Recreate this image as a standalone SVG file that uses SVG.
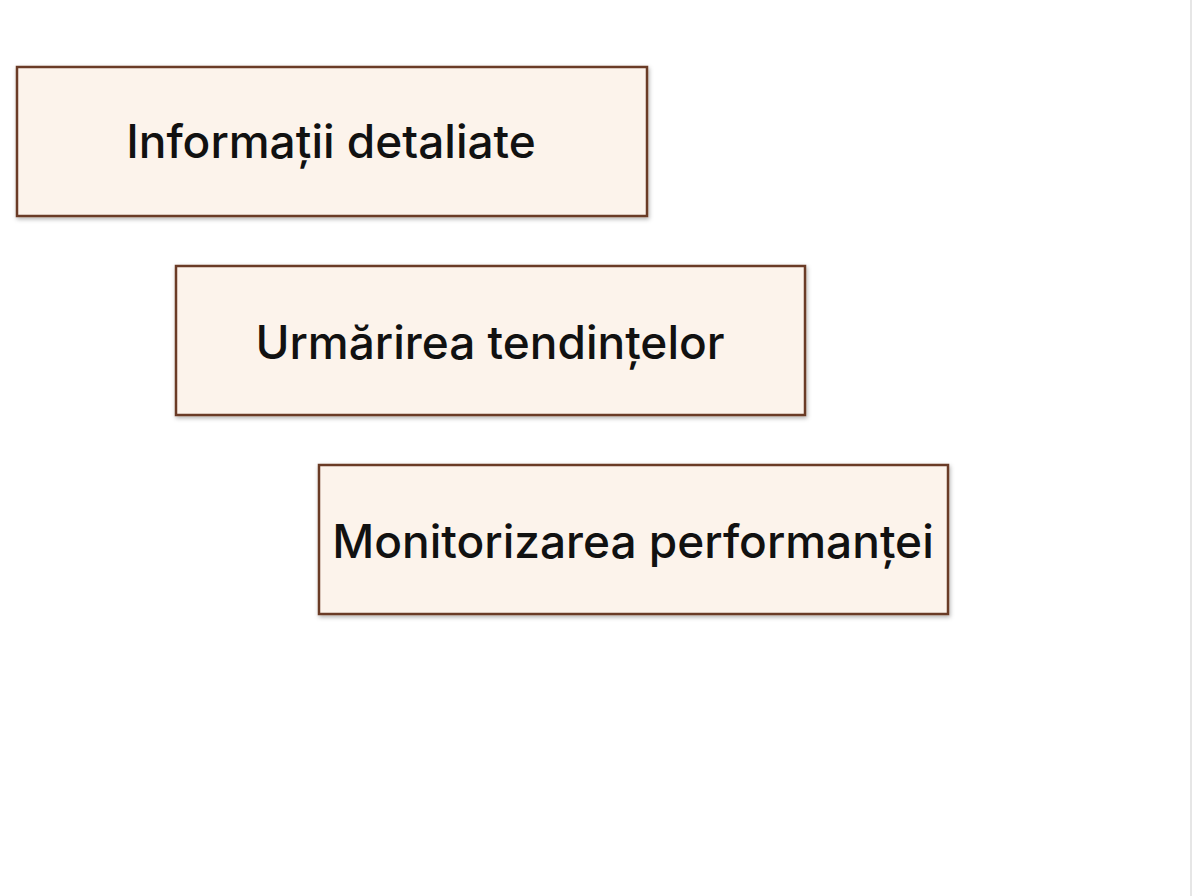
<svg xmlns="http://www.w3.org/2000/svg" width="1193" height="896" viewBox="0 0 1193 896">
<defs>
<style>
.box{fill:#fcf3eb;stroke:#6b3a26;stroke-width:2.5}
.t{font-family:Inter,"Noto Sans",sans-serif;font-size:46px;font-weight:500;fill:#111;text-anchor:middle}
</style>
<filter id="sh" x="-5%" y="-10%" width="110%" height="125%"><feDropShadow dx="1" dy="2" stdDeviation="2" flood-color="#000" flood-opacity="0.3"/></filter>
</defs>
<rect width="1193" height="896" fill="#fff"/>
<line x1="1191" y1="0" x2="1191" y2="896" stroke="#e6e6e6" stroke-width="2"/>
<g id="n1"><rect class="box" filter="url(#sh)" x="17" y="67" width="630" height="149"/><text class="t" x="331" y="158">Informații detaliate</text></g>
<g id="n2"><rect class="box" filter="url(#sh)" x="176" y="266" width="629" height="149"/><text class="t" x="490" y="359">Urmărirea tendințelor</text></g>
<g id="n3"><rect class="box" filter="url(#sh)" x="319" y="465" width="629" height="149"/><text class="t" x="633" y="558">Monitorizarea performanței</text></g>
<g id="connectors"/>
</svg>
